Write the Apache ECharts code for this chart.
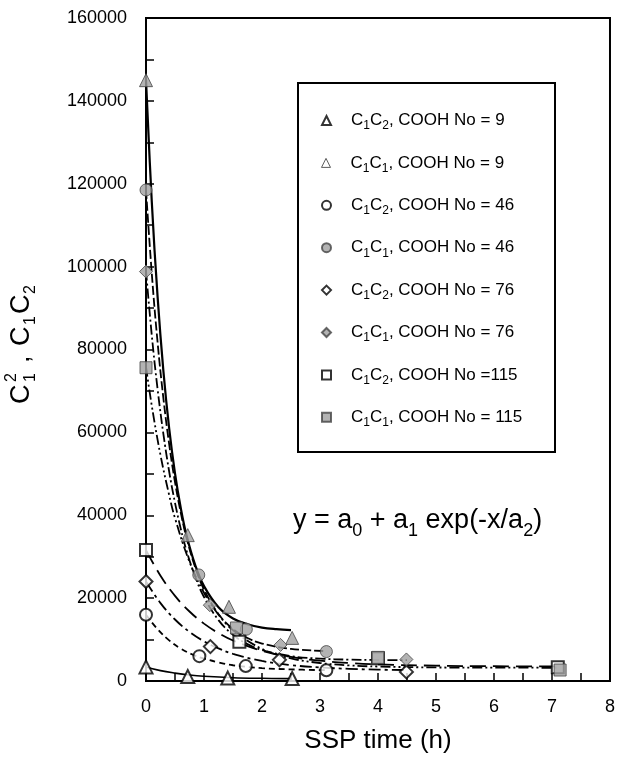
<!DOCTYPE html>
<html>
<head>
<meta charset="utf-8">
<script src="https://cdn.jsdelivr.net/npm/echarts@6/dist/echarts.min.js"></script>
<style>
html,body{margin:0;padding:0;background:#fff;}
#chart{width:618px;height:761px;}
</style>
</head>
<body>
<div id="chart"></div>
<script>
// ---- data ----
const seriesNames = [
  'C_1C_2, COOH No = 9', 'C_1C_1, COOH No = 9',
  'C_1C_2, COOH No = 46', 'C_1C_1, COOH No = 46',
  'C_1C_2, COOH No = 76', 'C_1C_1, COOH No = 76',
  'C_1C_2, COOH No =115', 'C_1C_1, COOH No = 115'
];
// measured points [time (h), value]
const pts_c12_9   = [[0,3400],[0.72,1100],[1.41,700],[2.52,600]];
const pts_c11_9   = [[0,145000],[0.72,35200],[1.43,17900],[2.52,10400]];
const pts_c12_46  = [[0,16000],[0.92,6000],[1.72,3600],[3.11,2600]];
const pts_c11_46  = [[0,118500],[0.91,25600],[1.73,12500],[3.11,7100]];
const pts_c12_76  = [[0,24000],[1.11,8300],[2.3,5100],[4.49,2200]];
const pts_c11_76  = [[0,98800],[1.1,18300],[2.32,8700],[4.49,5200]];
const pts_c12_115 = [[0,31600],[1.61,9500],[4.0,5500],[7.1,3300]];
const pts_c11_115 = [[0,75600],[1.56,12800],[4.0,5700],[7.14,2650]];

// fitted curves
const fit_c12_9_x   = [0,0.25,0.5,0.75,1,1.5,2,2.5];
const fit_c12_9_y   = [3400,2500,1900,1450,1150,800,650,580];
const fit_c11_9_x   = [0,0.1,0.2,0.3,0.4,0.5,0.6,0.7,0.85,1,1.25,1.5,1.75,2,2.25,2.5];
const fit_c11_9_y   = [145000,115600,92700,74800,60900,50100,41700,35100,27900,22900,17800,15100,13700,12900,12500,12260];
const fit_c12_46_x  = [0,0.2,0.4,0.6,0.8,1,1.25,1.5,2,2.5,3.1];
const fit_c12_46_y  = [16000,12500,9800,7800,6400,5400,4500,3800,3100,2800,2600];
const fit_c11_46_x  = [0,0.1,0.2,0.3,0.4,0.5,0.6,0.7,0.85,1,1.25,1.5,1.75,2,2.5,3.1];
const fit_c11_46_y  = [118500,98300,81700,68200,57100,48000,40600,34500,27400,22100,16150,12550,10370,9040,7750,7225];
const fit_c12_76_x  = [0,0.25,0.5,0.75,1,1.25,1.5,2,2.5,3,3.5,4,4.5];
const fit_c12_76_y  = [24000,18800,14840,11850,9580,7870,6570,4830,3840,3270,2940,2750,2645];
const fit_c11_76_x  = [0,0.1,0.2,0.3,0.4,0.5,0.6,0.7,0.85,1,1.25,1.5,1.75,2,2.5,3,3.5,4,4.5];
const fit_c11_76_y  = [99000,83400,70400,59600,50500,43000,36700,31400,25100,20280,14700,11150,8900,7480,6000,5400,5160,5065,5025];
const fit_c12_115_x = [0,0.25,0.5,0.75,1,1.25,1.5,2,2.5,3,3.5,4,5,6,7.1];
const fit_c12_115_y = [31600,25400,20540,16770,13840,11550,9770,7300,5810,4900,4350,4015,3690,3570,3525];
const fit_c11_115_x = [0,0.1,0.25,0.4,0.5,0.75,1,1.25,1.5,2,2.5,3,3.5,4,5,6,7.1];
const fit_c11_115_y = [75800,66400,54500,44840,39300,28760,21300,16010,12270,7750,5480,4340,3770,3490,3270,3220,3200];

const xTicks = { min: 0, max: 8, step: 1 };
const yTicks = { min: 0, max: 160000, step: 20000 };
const equation = 'y = a_0 + a_1 exp(-x/a_2)';
const xTitle = 'SSP time (h)';

// ---- build ----
const FONT = 'Liberation Sans, Arial, sans-serif';
function toRich(str) {
  const parts = str.split(/_(\d)/);
  return parts.map((p, i) => p === '' ? '' : (i % 2 ? '{s|' + p + '}' : '{m|' + p + '}')).join('');
}
const zip = (xs, ys) => xs.map((x, i) => [x, ys[i]]);

const pointSets = [pts_c12_9, pts_c11_9, pts_c12_46, pts_c11_46, pts_c12_76, pts_c11_76, pts_c12_115, pts_c11_115];
const fits = [
  zip(fit_c12_9_x, fit_c12_9_y), zip(fit_c11_9_x, fit_c11_9_y),
  zip(fit_c12_46_x, fit_c12_46_y), zip(fit_c11_46_x, fit_c11_46_y),
  zip(fit_c12_76_x, fit_c12_76_y), zip(fit_c11_76_x, fit_c11_76_y),
  zip(fit_c12_115_x, fit_c12_115_y), zip(fit_c11_115_x, fit_c11_115_y)
];
const symbols = ['triangle','triangle','circle','circle','diamond','diamond','rect','rect'];
const symSizes = [13, 13, 12, 12, 13, 13, 12, 12];
const lineStyles = [
  { type: 'solid', width: 1.6 },
  { type: 'solid', width: 2.2 },
  { type: [6, 4], width: 1.8 },
  { type: [9, 3], width: 1.8 },
  { type: [12, 4, 3, 4], width: 1.8 },
  { type: [10, 3, 2, 3], width: 1.8 },
  { type: [16, 7], width: 1.8 },
  { type: [10, 3, 2, 3, 2, 3], width: 1.8 }
];
const openStyle = { color: '#ffffff', borderColor: '#000', borderWidth: 2 };
const grayStyle = { color: '#a0a0a0', borderColor: '#444', borderWidth: 1 };

const series = [];
fits.forEach((f, i) => {
  series.push({
    type: 'line', data: f, smooth: 0.4, showSymbol: false, symbol: 'none',
    lineStyle: Object.assign({ color: '#000' }, lineStyles[i]), silent: true, z: 2
  });
});
pointSets.forEach((p, i) => {
  series.push({
    type: 'scatter', name: seriesNames[i], data: p, symbol: symbols[i], symbolSize: symSizes[i],
    itemStyle: i % 2 === 0 ? openStyle : grayStyle, z: 5
  });
});

const richLegend = {
  m: { fontSize: 17, fontFamily: FONT, color: '#000', lineHeight: 22, verticalAlign: 'middle' },
  s: { fontSize: 12, fontFamily: FONT, color: '#000', lineHeight: 23, verticalAlign: 'bottom' }
};
const legends = seriesNames.map((n, i) => ({
  data: [i === 1 ? { name: n, itemStyle: { color: '#fff', borderColor: '#333', borderWidth: 1 } } : { name: n }],
  left: 321, top: 112 + i * 42.4, padding: 0, orient: 'vertical',
  itemWidth: 9, itemHeight: 9, selectedMode: false,
  formatter: toRich,
  textStyle: { padding: [0, 0, 0, 15], rich: richLegend }
}));

const txt = (t, x, y, fs) => ({ type: 'text', x: x, y: y, style: { text: t, fontSize: fs, fontFamily: FONT, fill: '#000', align: 'left', verticalAlign: 'middle' } });

const option = {
  animation: false,
  backgroundColor: '#fff',
  grid: { left: 146, right: 5, top: 18, bottom: 80, show: true, borderColor: '#000', borderWidth: 2, backgroundColor: 'transparent' },
  xAxis: {
    type: 'value', min: xTicks.min, max: xTicks.max, interval: xTicks.step,
    name: xTitle, nameLocation: 'middle', nameGap: 47,
    nameTextStyle: { fontSize: 26, fontFamily: FONT, color: '#000' },
    axisLine: { lineStyle: { color: '#000', width: 2 } },
    axisTick: { inside: true, length: 8, lineStyle: { color: '#000', width: 1.5 } },
    minorTick: { show: true, splitNumber: 2, length: 8, lineStyle: { color: '#000', width: 1.5 } },
    splitLine: { show: false },
    axisLabel: { fontSize: 18, fontFamily: FONT, color: '#000', margin: 17 }
  },
  yAxis: {
    type: 'value', min: yTicks.min, max: yTicks.max, interval: yTicks.step,
    axisLine: { show: true, lineStyle: { color: '#000', width: 2 } },
    axisTick: { show: true, inside: true, length: 8, lineStyle: { color: '#000', width: 1.5 } },
    minorTick: { show: true, splitNumber: 2, length: 8, lineStyle: { color: '#000', width: 1.5 } },
    splitLine: { show: false },
    axisLabel: { fontSize: 18, fontFamily: FONT, color: '#000', margin: 19, formatter: v => String(v) }
  },
  legend: legends,
  graphic: [
    { type: 'rect', shape: { x: 298, y: 83, width: 257, height: 369 }, style: { fill: 'none', stroke: '#000', lineWidth: 2 }, z: 10 },
    { type: 'text', x: 293, y: 521, z: 10, style: {
        text: toRich(equation), align: 'left', verticalAlign: 'middle',
        rich: {
          m: { fontSize: 27, fontFamily: FONT, fill: '#000', lineHeight: 36, verticalAlign: 'middle' },
          s: { fontSize: 18, fontFamily: FONT, fill: '#000', lineHeight: 39, verticalAlign: 'bottom' }
        }
    } },
    { type: 'group', x: 22, y: 404, rotation: Math.PI / 2, z: 10, children: [
      txt('C', 0, 0, 27),
      txt('2', 22, -10, 16),
      txt('1', 22, 9, 16),
      txt(',', 41, 0, 27),
      txt('C', 58, 0, 27),
      txt('1', 79, 9, 16),
      txt('C', 90, 0, 27),
      txt('2', 110, 9, 16)
    ] }
  ],
  series: series
};
const chart = echarts.init(document.getElementById('chart'), null, { renderer: 'canvas' });
chart.setOption(option);
</script>
</body>
</html>
